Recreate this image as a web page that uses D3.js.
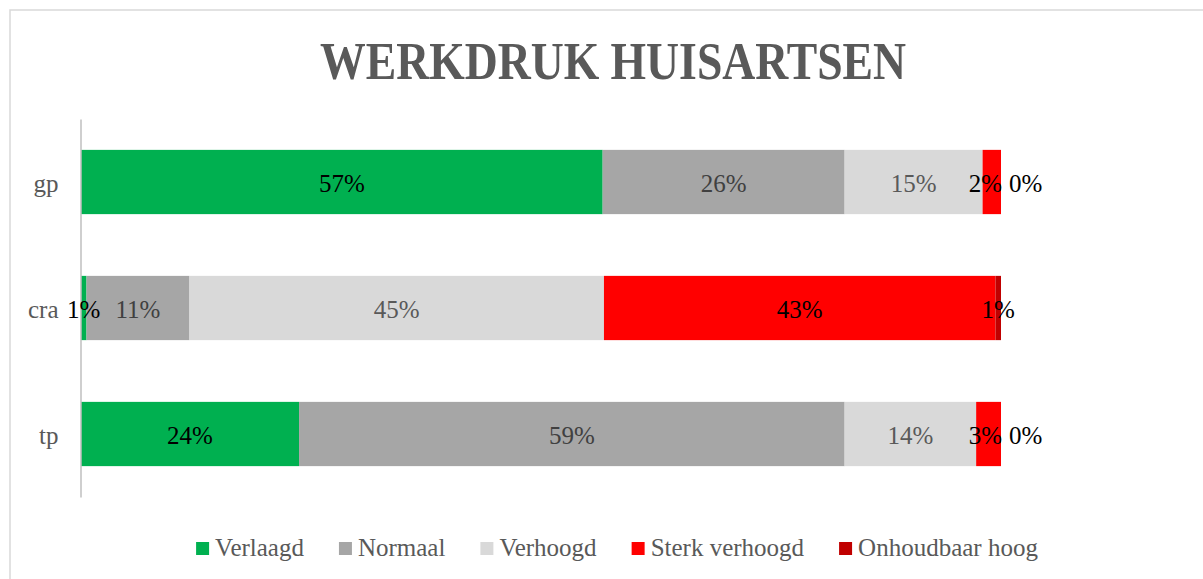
<!DOCTYPE html>
<html>
<head>
<meta charset="utf-8">
<style>
  body { margin: 0; background: #fff; overflow: hidden; }
  text { font-family: "Liberation Serif", "Times New Roman", serif; }
  .title { font-weight: bold; fill: #595959; }
  .cat text { fill: #595959; font-size: 25px; }
  .lbl { font-size: 25px; }
  .legend text { fill: #595959; font-size: 25px; }
</style>
<script src="https://d3js.org/d3.v7.min.js"></script>
</head>
<body>
<svg width="1203" height="579"></svg>
<script>
// data
var categories = ["gp", "cra", "tp"];
var series = ["Verlaagd", "Normaal", "Verhoogd", "Sterk verhoogd", "Onhoudbaar hoog"];
var verlaagd = [56.7, 0.6, 23.7];
var normaal = [26.3, 11.2, 59.3];
var verhoogd = [15.0, 45.1, 14.3];
var sterk = [2.0, 42.6, 2.7];
var onhoudbaar = [0.0, 0.6, 0.0];

var colors = ["#00B050", "#A6A6A6", "#D9D9D9", "#FF0000", "#C00000"];
var labelColors = ["#000000", "#404040", "#595959", "#000000", "#000000"];

var rows = categories.map(function (c, i) {
    return {
        cat: c,
        "Verlaagd": verlaagd[i],
        "Normaal": normaal[i],
        "Verhoogd": verhoogd[i],
        "Sterk verhoogd": sterk[i],
        "Onhoudbaar hoog": onhoudbaar[i]
    };
});

var svg = d3.select("svg");

// chart frame
svg.append("rect")
    .attr("x", 10).attr("y", 10)
    .attr("width", 1220).attr("height", 600)
    .attr("fill", "none")
    .attr("stroke", "#D9D9D9")
    .attr("stroke-width", 1.5);

svg.append("text")
    .attr("class", "title")
    .attr("x", 320).attr("y", 79)
    .attr("font-size", 53)
    .attr("textLength", 586)
    .attr("lengthAdjust", "spacingAndGlyphs")
    .text("WERKDRUK HUISARTSEN");

var x = d3.scaleLinear().domain([0, 1]).range([81, 1001]);
var y = d3.scaleBand().domain(categories).range([119, 497])
    .paddingInner(0.49).paddingOuter(0.245);

var stack = d3.stack().keys(series).offset(d3.stackOffsetExpand);
var stacked = stack(rows);

var layer = svg.selectAll(".layer")
    .data(stacked)
    .enter().append("g")
    .attr("class", "layer")
    .attr("fill", function (d, i) { return colors[i]; });

layer.selectAll("rect")
    .data(function (d) { return d; })
    .enter().append("rect")
    .attr("x", function (d) { return x(d[0]); })
    .attr("y", function (d) { return y(d.data.cat); })
    .attr("width", function (d) { return x(d[1]) - x(d[0]); })
    .attr("height", y.bandwidth());

// axis
var axis = svg.append("g")
    .attr("class", "cat")
    .attr("transform", "translate(80.5,0)")
    .call(d3.axisLeft(y).tickSize(0).tickSizeOuter(0).tickPadding(22));
axis.select(".domain").attr("stroke", "#BFBFBF").attr("stroke-width", 1.5);
axis.selectAll("text").attr("font-size", 25).attr("dy", "0.4em");

// data labels
var fmt = d3.format(".0%");
var labelG = svg.append("g");
categories.forEach(function (c, ci) {
    var items = stacked.map(function (s, si) {
        var d = s[ci];
        var share = d[1] - d[0];
        var t = labelG.append("text")
            .attr("class", "lbl")
            .attr("fill", labelColors[si])
            .attr("y", y(c) + y.bandwidth() / 2)
            .attr("dy", "0.4em")
            .attr("text-anchor", "middle")
            .text(fmt(share));
        var w = t.node().getComputedTextLength();
        var cx = share === 0 ? x(d[1]) + 8 + w / 2 : (x(d[0]) + x(d[1])) / 2;
        return { t: t, w: w, cx: cx };
    });
    // push overlapping labels to the left
    for (var i = items.length - 2; i >= 0; i--) {
        var a = items[i], b = items[i + 1];
        var limit = b.cx - b.w / 2 - 7;
        if (a.cx + a.w / 2 > limit) a.cx = limit - a.w / 2;
    }
    items.forEach(function (it) { it.t.attr("x", it.cx); });
});

// legend
var legend = svg.append("g").attr("class", "legend");
var items = legend.selectAll("g")
    .data(series)
    .enter().append("g");
items.append("rect")
    .attr("width", 13).attr("height", 13)
    .attr("y", 542)
    .attr("fill", function (d, i) { return colors[i]; });
items.append("text")
    .attr("x", 19).attr("y", 556)
    .text(function (d) { return d; });
var gap = 35, pos = 0, offs = [];
items.each(function () {
    offs.push(pos);
    pos += 19 + d3.select(this).select("text").node().getComputedTextLength() + gap;
});
var total = pos - gap;
var start = 617 - total / 2;
items.attr("transform", function (d, i) { return "translate(" + (start + offs[i]) + ",0)"; });
</script>
</body>
</html>
